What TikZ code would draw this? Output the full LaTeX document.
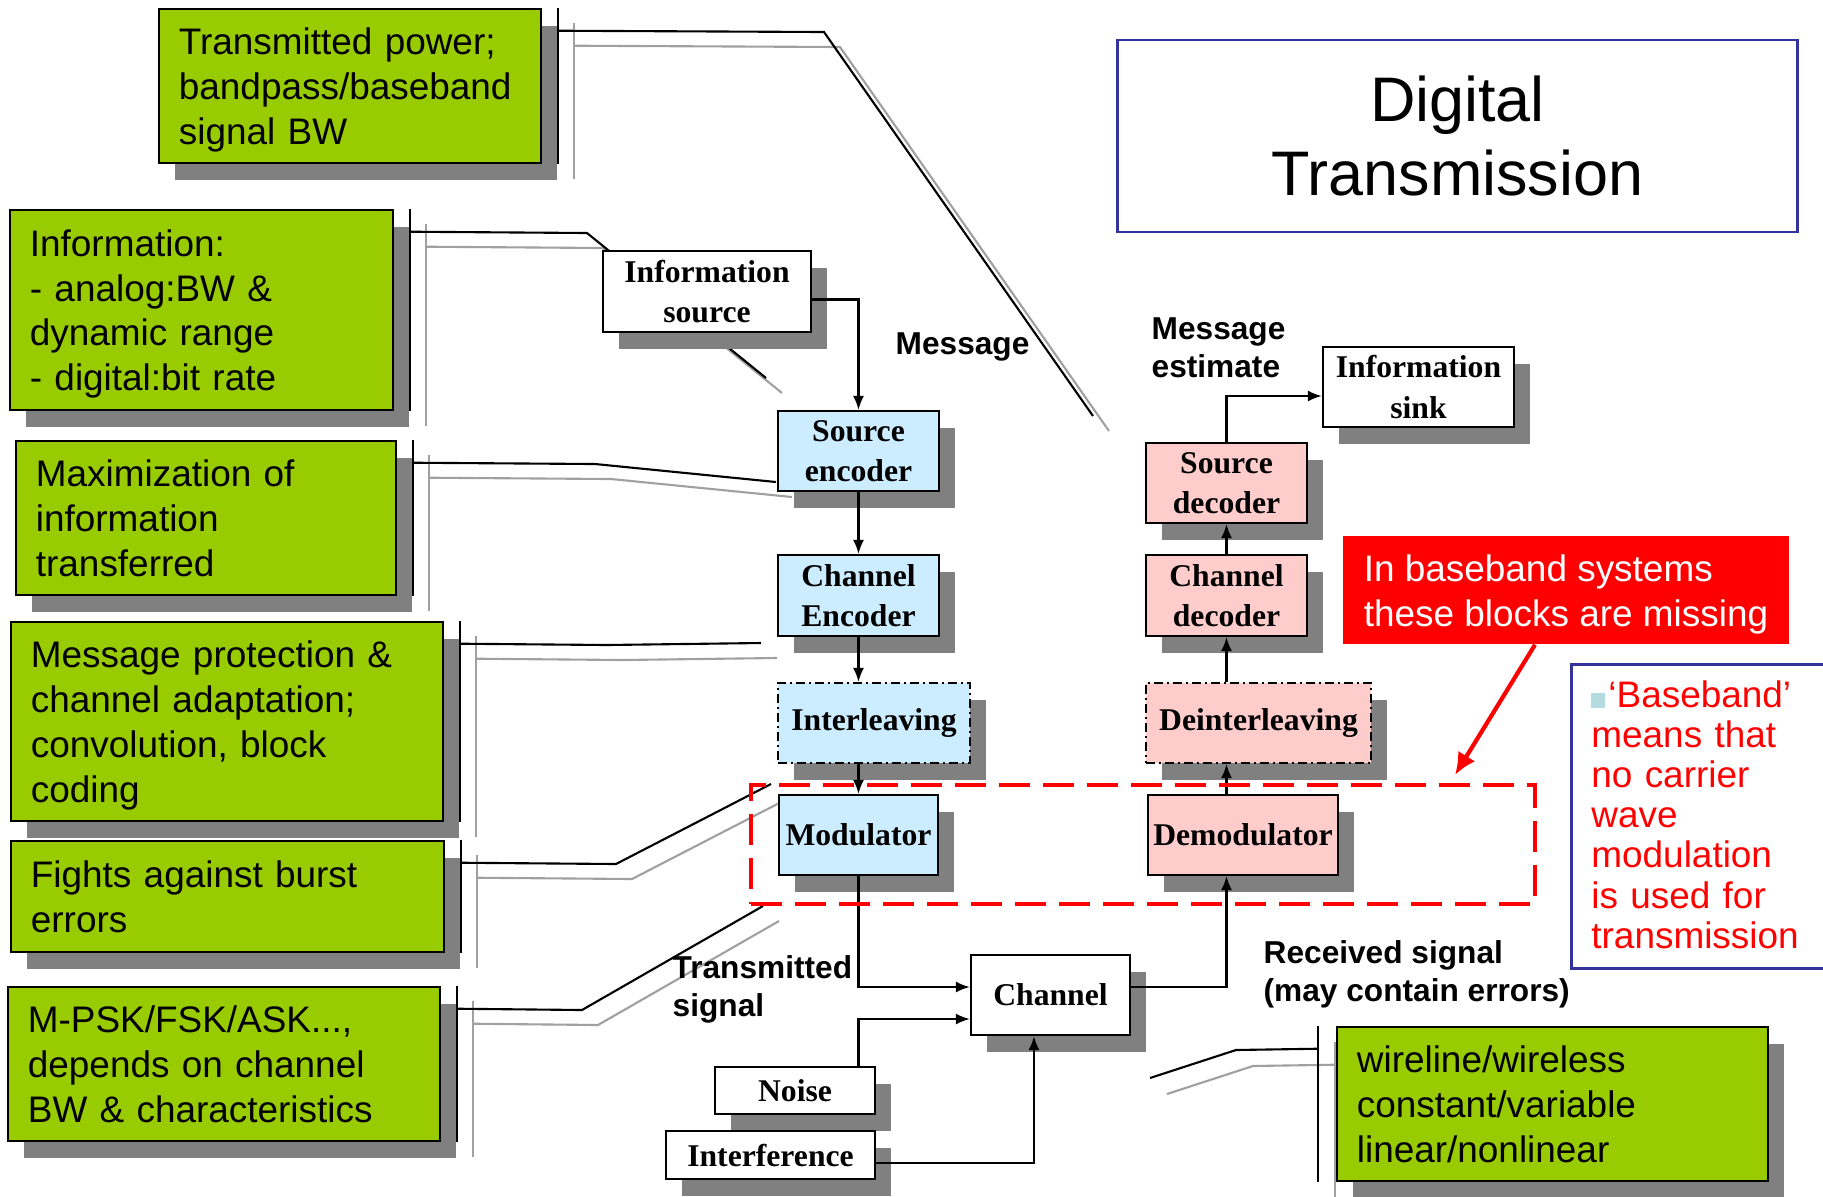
\documentclass[tikz,border=0pt]{standalone}
\usepackage{fontspec}
\setmainfont{Liberation Serif}
\setsansfont{Liberation Sans}
\usetikzlibrary{arrows.meta,shadows,backgrounds}

\definecolor{notegreen}{HTML}{99CC00}
\definecolor{shadowgray}{HTML}{808080}
\definecolor{shadegray}{HTML}{A0A0A0}
\definecolor{txblue}{HTML}{CCECFF}
\definecolor{rxpink}{HTML}{FFCCCC}
\definecolor{frameblue}{HTML}{333399}
\definecolor{bulletblue}{HTML}{B4DCE0}

\tikzset{
  boxshadow/.style={drop shadow={shadow xshift=0.16cm, shadow yshift=-0.17cm, fill=shadowgray, opacity=1}},
  note/.style={draw, line width=0.7pt, fill=notegreen, boxshadow, align=left, inner xsep=0.2cm, inner ysep=0pt, font=\sffamily\fontsize{10.5}{12.75}\selectfont,
    execute at begin node={\noindent\rule{0pt}{0.36cm}}, execute at end node={\rule[-0.09cm]{0pt}{0pt}}},
  block/.style={draw, line width=0.6pt, fill=white, boxshadow, align=center, inner sep=0pt, font=\bfseries\fontsize{9}{11.4}\selectfont},
  txblock/.style={block, fill=txblue},
  rxblock/.style={block, fill=rxpink},
  optblock/.style={dash pattern=on 0.09cm off 0.04cm on 0.02cm off 0.04cm},
  sigtext/.style={anchor=north west, inner sep=0pt, align=left, font=\sffamily\bfseries\fontsize{9}{10.8}\selectfont},
  leader/.style={line width=0.6pt},
  leadershade/.style={line width=0.6pt, draw=shadegray},
  arr/.style={line width=0.6pt, -{Latex[length=0.14cm, width=0.11cm]}},
}

\begin{document}
\begin{tikzpicture}[x=0.01cm, y=-0.01cm]
\useasboundingbox (0,0) rectangle (1823,1196);

% Notes
\node[note, text width=3.42cm, minimum height=1.54cm] (note-power) at (350,86) {Transmitted power;\\bandpass/baseband\\signal BW};
\node[note, text width=3.43cm, minimum height=2.00cm] (note-info) at (201.5,310) {Information:\\- analog:BW \&\\dynamic range\\- digital:bit rate};
\node[note, text width=3.40cm, minimum height=1.54cm] (note-max) at (206,518) {Maximization of\\information\\transferred};
\node[note, text width=3.92cm, minimum height=1.99cm] (note-protect) at (227,721.5) {Message protection \&\\channel adaptation;\\convolution, block\\coding};
\node[note, text width=3.93cm, minimum height=1.11cm] (note-burst) at (227.5,896.5) {Fights against burst\\errors};
\node[note, text width=3.92cm, minimum height=1.54cm] (note-mod) at (224,1064) {M-PSK/FSK/ASK...,\\depends on channel\\BW \& characteristics};
\node[note, text width=3.91cm, minimum height=1.54cm] (note-chan) at (1552.5,1104) {wireline/wireless\\constant/variable\\linear/nonlinear};

% Callout lines
\coordinate (power-bend) at (824,32);     \coordinate (power-tip) at (1093,416);
\coordinate (info-bend) at (587,233);     \coordinate (info-tip) at (766,378);
\coordinate (max-bend) at (595,464);      \coordinate (max-tip) at (776,482);
\coordinate (protect-bend) at (607,645);  \coordinate (protect-tip) at (761,643);
\coordinate (burst-bend) at (616,864);    \coordinate (burst-tip) at (771,784);
\coordinate (mod-bend) at (582,1010);     \coordinate (mod-tip) at (763,906);
\coordinate (chan-bend) at (1236,1050);   \coordinate (chan-tip) at (1150,1078);

\begin{pgfonlayer}{background}
\foreach \n in {power,info,max,protect,burst,mod}{
  \draw[leadershade] ([shift={(32,15)}]note-\n.north east) -- ([shift={(32,15)}]note-\n.south east);
  \draw[leadershade] ([shift={(32,38)}]note-\n.north east) -- ([shift={(16,15)}]\n-bend) -- ([shift={(16,15)}]\n-tip);
}
\draw[leadershade] ([shift={(-1,16)}]note-chan.north west) -- ([shift={(-1,16)}]note-chan.south west);
\draw[leadershade] ([shift={(-1,39)}]note-chan.north west) -- ([shift={(17,16)}]chan-bend) -- ([shift={(17,16)}]chan-tip);
\end{pgfonlayer}

\foreach \n in {power,info,max,protect,burst,mod}{
  \draw[leader] ([shift={(16,0)}]note-\n.north east) -- ([shift={(16,0)}]note-\n.south east);
  \draw[leader] ([shift={(16,23)}]note-\n.north east) -- (\n-bend) -- (\n-tip);
}
\draw[leader] ([shift={(-18,0)}]note-chan.north west) -- ([shift={(-18,0)}]note-chan.south west);
\draw[leader] ([shift={(-18,23)}]note-chan.north west) -- (chan-bend) -- (chan-tip);

% Transmitter
\node[block, minimum width=2.08cm, minimum height=0.81cm] (info-src) at (707,291.5) {Information\\source};
\node[txblock, minimum width=1.61cm, minimum height=0.80cm] (src-enc) at (858.5,451) {Source\\encoder};
\node[txblock, minimum width=1.61cm, minimum height=0.81cm] (ch-enc) at (858.5,595.5) {Channel\\Encoder};
\node[txblock, optblock, minimum width=1.92cm, minimum height=0.80cm] (interl) at (874,723) {Interleaving};
\node[txblock, minimum width=1.59cm, minimum height=0.80cm] (modul) at (858.5,835) {Modulator};

% Channel
\node[block, minimum width=1.59cm, minimum height=0.80cm] (channel) at (1050.5,995) {Channel};
\node[block, minimum width=1.60cm, minimum height=0.47cm] (noise) at (795,1090.5) {Noise};
\node[block, minimum width=2.09cm, minimum height=0.48cm] (interf) at (770.5,1155) {Interference};

% Receiver
\node[rxblock, minimum width=1.90cm, minimum height=0.80cm] (demod) at (1243,835) {Demodulator};
\node[rxblock, optblock, minimum width=2.25cm, minimum height=0.80cm] (deinterl) at (1258.5,723) {Deinterleaving};
\node[rxblock, minimum width=1.61cm, minimum height=0.81cm] (ch-dec) at (1226.5,595.5) {Channel\\decoder};
\node[rxblock, minimum width=1.61cm, minimum height=0.80cm] (src-dec) at (1226.5,483) {Source\\decoder};
\node[block, minimum width=1.91cm, minimum height=0.80cm] (info-sink) at (1418.5,387) {Information\\sink};

% Signal flow
\draw[arr] ([yshift=-0.08cm]info-src.east) -| (src-enc.north);
\draw[arr] (src-enc) -- (ch-enc);
\draw[arr] (ch-enc.south) -- (ch-enc.south |- interl.north);
\draw[arr] (interl.south -| modul) -- (modul.north);
\draw[arr] (modul.south) |- ([yshift=0.08cm]channel.west);
\draw[arr] (noise.north -| modul) |- ([yshift=-0.24cm]channel.west);
\draw[arr] ([yshift=-0.08cm]interf.east) -| ([xshift=-0.165cm]channel.south);
\draw[arr] ([yshift=0.08cm]channel.east) -| (demod.south -| src-dec);
\draw[arr] (demod.north -| src-dec) -- (deinterl.south -| src-dec);
\draw[arr] (deinterl.north -| src-dec) -- (ch-dec.south);
\draw[arr] (ch-dec) -- (src-dec);
\draw[arr] (src-dec.north) |- ([yshift=-0.09cm]info-sink.west);

% Signal names
\node[sigtext] (msg) at (895,332) {Message};
\node[sigtext] (msg-est) at (1151,317) {Message\\estimate};
\node[sigtext] (tx-sig) at (672,955) {Transmitted\\signal};
\node[sigtext] (rx-sig) at (1263,940) {Received signal\\(may contain errors)};

% Baseband remark
\node[draw=red, line width=1.1pt, dash pattern=on 0.31cm off 0.13cm, minimum width=7.84cm, minimum height=1.19cm, inner sep=0pt] (bb-blocks) at (1143,844.5) {};
\node[fill=red, text=white, minimum width=4.46cm, minimum height=1.08cm, inner sep=0pt, align=left, font=\sffamily\fontsize{10.5}{12.8}\selectfont] (bb-missing) at (1566,590) {\rule{0pt}{0.36cm}In baseband systems\\these blocks are missing};
\coordinate (bb-tip) at (1455,775);
\draw[red, line width=1.2pt, -{Latex[length=0.22cm, width=0.2cm]}] ([xshift=-0.31cm]bb-missing.south) -- (bb-tip);
\node[draw=frameblue, line width=0.8pt, anchor=north west, text width=2.3cm, minimum height=3.04cm, inner xsep=0.2cm, inner ysep=0pt, align=left, text=red, font=\sffamily\fontsize{10.5}{11.4}\selectfont] (bb-meaning) at (1570,663) {\textcolor{bulletblue}{\rule{0.14cm}{0.15cm}}\hspace{0.03cm}‘Baseband’\\means that\\no carrier\\wave\\modulation\\is used for\\transmission\rule[-0.04cm]{0pt}{0pt}};

% Title
\node[draw=frameblue, line width=0.8pt, minimum width=6.79cm, minimum height=1.92cm, align=center, font=\sffamily\fontsize{17.9}{21.3}\selectfont] (title) at (1457.5,136) {Digital\\Transmission};

\end{tikzpicture}
\end{document}
